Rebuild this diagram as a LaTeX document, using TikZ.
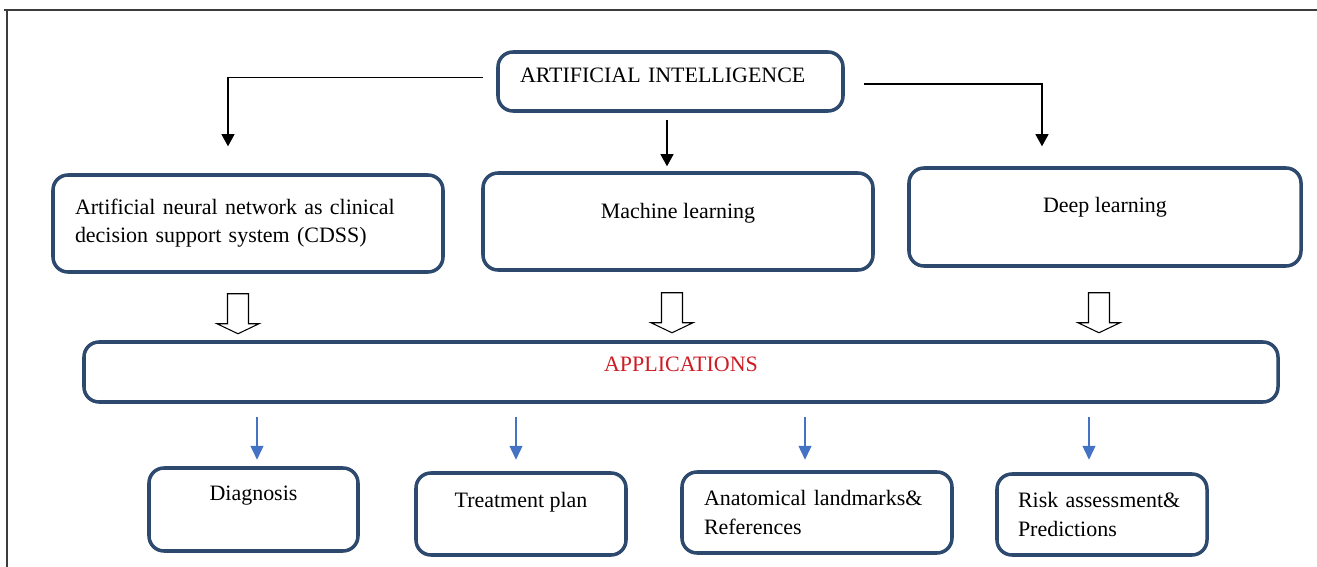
\documentclass[tikz,border=0pt]{standalone}
\usepackage{fontspec}
\setmainfont{Liberation Serif}
\usepackage{xcolor}
\usepackage{tikz}
\usetikzlibrary{calc, positioning, arrows.meta}

\definecolor{boxblue}{RGB}{46,73,110}
\definecolor{appred}{RGB}{204,28,36}
\definecolor{flowblue}{RGB}{68,114,196}
\definecolor{framegray}{RGB}{60,60,60}

\begin{document}
\begin{tikzpicture}[
    font=\fontsize{12.5}{16}\selectfont,
    box/.style={draw=boxblue, line width=2pt, rounded corners=0.3cm, fill=white, inner sep=0pt},
    link/.style={-{Triangle[length=2.4mm, width=2.6mm]}, black, line width=0.6pt},
    flow/.style={-{Triangle[length=2.8mm, width=2.6mm]}, flowblue, line width=0.8pt},
    hollow/.style={draw=black, line width=0.6pt, fill=white, line join=miter}
]
    \useasboundingbox (0,0) rectangle (26.34,11.34);

    % 1. Khung ngoài: chỉ có cạnh trên và cạnh trái
    \draw[framegray, line width=1.2pt] (26.34,11.14) -- (0.08,11.14) -- (0.14,11.14) -- (0.14,0);

    % 2. Khối trên cùng
    \node[box, minimum width=6.9cm, minimum height=1.18cm, text width=6.02cm, align=left, text depth=0.24cm] (ai) at (13.41,9.71) {ARTIFICIAL INTELLIGENCE};

    % 3. Ba nhánh
    \node[box, minimum width=7.8cm, minimum height=1.94cm, text width=6.92cm, align=left] (ann) at (4.96,6.87) {Artificial neural network as clinical\\ decision support system (CDSS)};
    \node[box, minimum width=7.8cm, minimum height=1.94cm, text depth=0.42cm] (ml) at (13.56,6.91) {Machine learning};
    \node[box, minimum width=7.84cm, minimum height=1.96cm, text depth=0.5cm] (dl) at (22.10,7.0) {Deep learning};

    % Mũi tên từ khối trên xuống ba nhánh
    \draw[link] ($(ai.west)+(-0.26,0.08)$) -| ($(ann.north)+(-0.4,0.54)$);
    \draw[link] ($(ai.south)+(-0.07,-0.14)$) -- ($(ai.south |- ml.north)+(-0.07,0.1)$);
    \draw[link] ($(ai.east)+(0.38,-0.05)$) -| ($(dl.north)+(-1.26,0.4)$);

    % 4. Khối ứng dụng
    \node[box, minimum width=23.88cm, minimum height=1.2cm, text depth=0.3cm, text=appred] (app) at (13.62,3.9) {APPLICATIONS};

    % Mũi tên rỗng từ ba nhánh xuống khối ứng dụng
    \foreach \b/\dx/\dy in {ann/-0.2/-0.4, ml/-0.12/-0.42, dl/-0.12/-0.5}
        \draw[hollow] ($(\b.south)+(\dx-0.21,\dy)$) -- ++(0,-0.6) -- ++(-0.21,0) -- ++(0.42,-0.2)
            -- ++(0.42,0.2) -- ++(-0.21,0) -- ++(0,0.6) -- cycle;

    % 5. Bốn ứng dụng cụ thể
    \node[box, minimum width=4.18cm, minimum height=1.66cm, text depth=0.66cm] (diag) at (5.07,1.15) {Diagnosis};
    \node[box, minimum width=4.2cm, minimum height=1.64cm, text depth=0.58cm] (treat) at (10.42,1.06) {Treatment plan};
    \node[box, minimum width=5.4cm, minimum height=1.62cm, text width=4.52cm, align=left] (anat) at (16.34,1.09) {Anatomical landmarks\&\\ References};
    \node[box, minimum width=4.2cm, minimum height=1.62cm, text width=3.36cm, align=left] (risk) at (22.04,1.05) {Risk assessment\&\\ Predictions};

    % Mũi tên xanh từ khối ứng dụng xuống từng ô
    \foreach \b/\dx in {diag/0.07, treat/-0.1, anat/-0.24, risk/-0.26}
        \draw[flow] ($(app.south -| \b.north)+(\dx,-0.26)$) -- ++(0,-0.86);

\end{tikzpicture}
\end{document}
